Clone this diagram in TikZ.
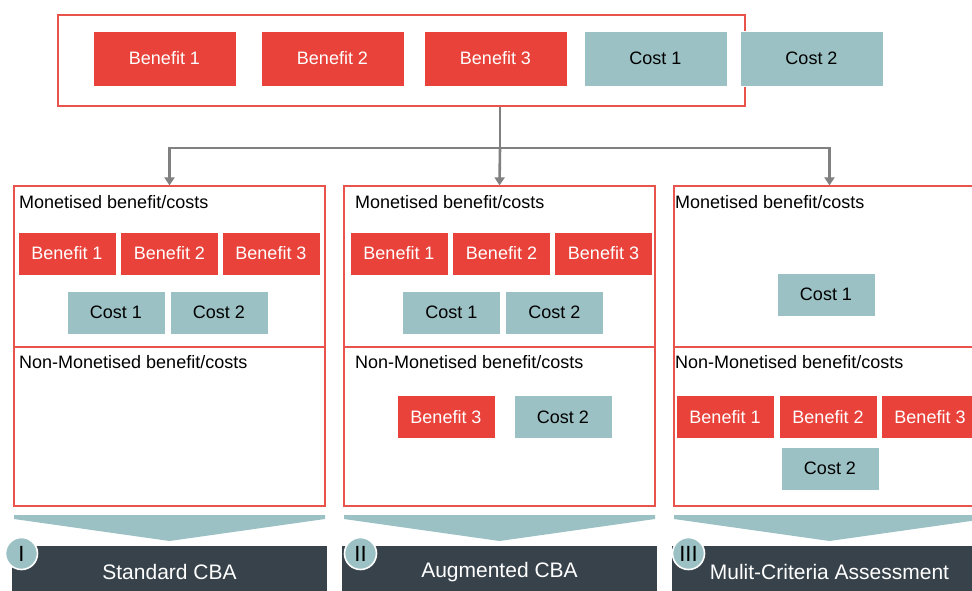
\documentclass[tikz,border=0pt]{standalone}
\usepackage{fontspec}
\setmainfont{Liberation Sans}
\usetikzlibrary{arrows.meta}
\definecolor{cbared}{HTML}{E8423A}
\definecolor{cbaline}{HTML}{E8534C}
\definecolor{cbateal}{HTML}{9BC1C4}
\definecolor{cbagrey}{HTML}{808080}
\definecolor{cbadark}{HTML}{37424A}
\tikzset{
  x=1pt, y=-1pt,
  item/.style={rectangle, draw=white, line width=0.8pt, inner sep=0pt,
    font=\fontsize{18}{20}\selectfont},
  ben/.style={item, fill=cbared, text=white},
  cst/.style={item, fill=cbateal, text=black},
  big/.style={minimum width=143pt, minimum height=55pt},
  small/.style={minimum width=98pt, minimum height=43pt},
  frame/.style={rectangle, draw=cbaline, line width=1.3pt, inner sep=0pt},
  panel/.style={frame, minimum width=311pt, minimum height=320pt},
  heading/.style={anchor=base west, inner sep=0pt, font=\fontsize{18}{20}\selectfont},
  link/.style={draw=cbagrey, line width=2.6pt},
  linkarrow/.style={link, -{Triangle[width=10pt,length=8pt]}},
  chevron/.style={fill=cbateal},
  bar/.style={rectangle, fill=cbadark, text=white, inner sep=0pt,
    minimum width=315pt, minimum height=52pt, font=\fontsize{21}{23}\selectfont},
  badge/.style={circle, fill=cbateal, draw=white, line width=1.6pt, text=black,
    minimum size=32pt, inner sep=0pt, font=\fontsize{22}{22}\selectfont}
}
\begin{document}
\begin{tikzpicture}
\useasboundingbox (0,0) rectangle (972,590);
\clip (0,0) rectangle (972,590);

% source row of all benefits and costs
\node[frame, minimum width=687pt, minimum height=91pt] (top) at (401.5,60.5) {};
\node[ben, big] (tb1) at (164.5,58.5) {Benefit 1};
\node[ben, big] (tb2) at (332.5,58.5) {Benefit 2};
\node[ben, big] (tb3) at (495.5,58.5) {Benefit 3};
\node[cst, big] (tc1) at (655.5,58.5) {Cost 1};
\node[cst, big] (tc2) at (811.5,58.5) {Cost 2};

% three assessment panels
\node[panel] (p1) at (169.5,346) {};
\node[panel] (p2) at (499.5,346) {};
\node[panel] (p3) at (829.5,346) {};
\foreach \p in {p1,p2,p3}
  \draw[cbaline, line width=1.3pt] (\p.west |- 0,347) -- (\p.east |- 0,347);

% branching connector
\coordinate (split) at (500,148);
\draw[link] (top.south -| split) -- (split);
\draw[linkarrow] (split) -| (p1.north);
\draw[linkarrow] (split) -- (p2.north);
\draw[linkarrow] (split) -| (p3.north);

% panel headings
\node[heading] (m1) at (19,208) {Monetised benefit/costs};
\node[heading] (n1) at (19,368) {Non-Monetised benefit/costs};
\node[heading] (m2) at (355,208) {Monetised benefit/costs};
\node[heading] (n2) at (355,368) {Non-Monetised benefit/costs};
\node[heading] (m3) at (675,208) {Monetised benefit/costs};
\node[heading] (n3) at (675,368) {Non-Monetised benefit/costs};

% panel I: standard CBA
\node[ben, small] (a1) at (67,253.5) {Benefit 1};
\node[ben, small] (a2) at (169.5,253.5) {Benefit 2};
\node[ben, small] (a3) at (271,253.5) {Benefit 3};
\node[cst, small] (ac1) at (116,312.5) {Cost 1};
\node[cst, small] (ac2) at (219,312.5) {Cost 2};

% panel II: augmented CBA
\node[ben, small] (b1) at (399,253.5) {Benefit 1};
\node[ben, small] (b2) at (501.5,253.5) {Benefit 2};
\node[ben, small] (b3) at (603.5,253.5) {Benefit 3};
\node[cst, small] (bc1) at (451.5,312.5) {Cost 1};
\node[cst, small] (bc2) at (554.5,312.5) {Cost 2};
\node[ben, small] (bn3) at (446,417) {Benefit 3};
\node[cst, small] (bnc2) at (563,417) {Cost 2};

% panel III: multi-criteria assessment
\node[cst, small] (cc1) at (826,294.5) {Cost 1};
\node[ben, small] (cn1) at (725,417) {Benefit 1};
\node[ben, small] (cn2) at (828,417) {Benefit 2};
\node[ben, small] (cn3) at (930,417) {Benefit 3};
\node[cst, small] (cnc2) at (830,468.5) {Cost 2};

% chevrons pointing to the results
\foreach \l/\r in {14/325, 344/655, 674/985} {
  \fill[chevron] (\l,515) -- (\r,515) -- (\r,519) -- ({(\l+\r)/2},541) -- (\l,519) -- cycle;
}

% result bars
\node[bar] (r1) at (169.5,572) {Standard CBA};
\node[bar] (r2) at (499.5,572) {Augmented CBA};
\node[bar] (r3) at (829.5,572) {Mulit-Criteria Assessment};
\node[badge] (k1) at (21.5,553.5) {I};
\node[badge] (k2) at (360.5,553.5) {II};
\node[badge] (k3) at (688.5,553.5) {III};
\end{tikzpicture}
\end{document}
